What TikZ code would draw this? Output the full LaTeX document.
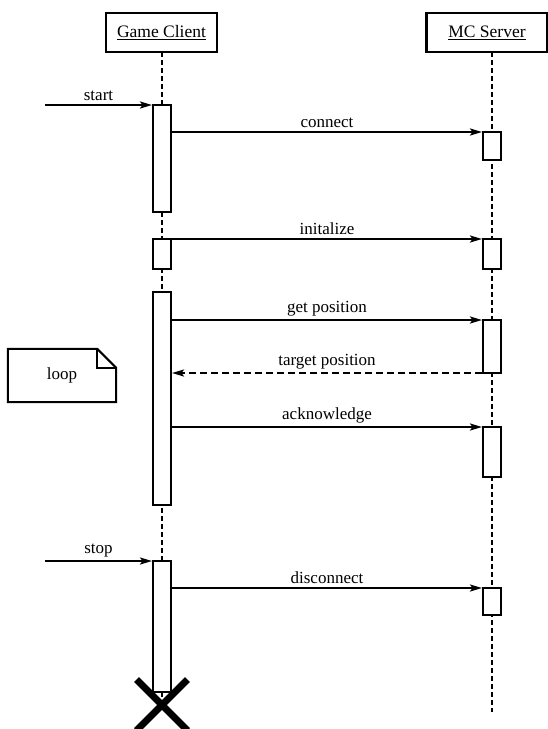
\documentclass[tikz,border=0pt]{standalone}
\usepackage{fontspec}
\setmainfont{Liberation Serif}
\usetikzlibrary{arrows.meta,shapes.misc}
\begin{document}
\begin{tikzpicture}[x=1pt,y=-1pt,
  head/.style={draw, line width=2.2pt, minimum height=39pt, inner sep=0pt,
    font=\fontsize{17.5}{20}\selectfont},
  act/.style={draw, fill=white, line width=2pt, minimum width=18pt, inner sep=0pt, outer sep=0pt},
  msg/.style={line width=2pt, -{Stealth[length=12pt,width=7pt,inset=2.5pt]}},
  reply/.style={msg, dash pattern=on 7pt off 4pt},
  life/.style={line width=1.5pt, dash pattern=on 5pt off 3pt},
  lbl/.style={above, inner sep=3pt, font=\fontsize{17}{19}\selectfont},
  notebox/.style={line width=2pt, line join=miter}]
\useasboundingbox (0,0) rectangle (548,729);

% lifeline heads
\node[head, minimum width=111pt] (gc) at (161.5,32.5) {\underline{Game Client}};
\node[head, minimum width=121pt] (mc) at (487,32.5) {\underline{MC Server}};
\coordinate (gcx) at (162,52);
\coordinate (mcx) at (492,52);
\coordinate (mcend) at (492,712);

% termination mark position
\coordinate (xpos) at (162,705);

% dashed lifelines
\draw[life] (gcx) -- (xpos);
\draw[life] (mcx) -- (mcend);

% activation bars of the client
\node[act, minimum height=107pt] (c1) at (162,158.5) {};
\node[act, minimum height=30pt]  (c2) at (162,254) {};
\node[act, minimum height=213pt] (c3) at (162,398.5) {};
\node[act, minimum height=131pt] (c4) at (162,626.5) {};

% activation bars of the server
\node[act, minimum height=28pt] (s1) at (492,146) {};
\node[act, minimum height=30pt] (s2) at (492,254) {};
\node[act, minimum height=53pt] (s3) at (492,346.5) {};
\node[act, minimum height=50pt] (s4) at (492,452) {};
\node[act, minimum height=27pt] (s5) at (492,601.5) {};

% found messages
\coordinate (startsrc) at (45,105);
\coordinate (stopsrc) at (45,561);
\draw[msg] (startsrc) -- node[lbl] {start} ([xshift=-1pt]c1.north west);
\draw[msg] (stopsrc) -- node[lbl] {stop} ([xshift=-1pt]c4.north west);

% calls and replies
\draw[msg] ([xshift=1pt]c1.east |- s1.north) -- node[lbl] {connect} ([xshift=-1pt]s1.north west);
\draw[msg] ([xshift=1pt]c2.north east) -- node[lbl] {initalize} ([xshift=-1pt]s2.north west);
\draw[msg] ([xshift=1pt]c3.east |- s3.north) -- node[lbl] {get position} ([xshift=-1pt]s3.north west);
\draw[reply] ([xshift=-1pt]s3.south west) -- node[lbl] {target position} ([xshift=1pt]c3.east |- s3.south);
\draw[msg] ([xshift=1pt]c3.east |- s4.north) -- node[lbl] {acknowledge} ([xshift=-1pt]s4.north west);
\draw[msg] ([xshift=1pt]c4.east |- s5.north) -- node[lbl] {disconnect} ([xshift=-1pt]s5.north west);

% loop note with folded corner
\node[minimum width=108pt, minimum height=53pt, inner sep=0pt,
  font=\fontsize{17}{19}\selectfont] (loopnote) at (62,375.5) {loop};
\draw[notebox] (loopnote.south west) -- (loopnote.north west)
  -- ([xshift=-19pt]loopnote.north east) -- ([yshift=-19pt]loopnote.north east)
  -- (loopnote.south east) -- cycle;
\draw[notebox] ([xshift=-19pt]loopnote.north east)
  -- ([xshift=-19pt,yshift=-19pt]loopnote.north east)
  -- ([yshift=-19pt]loopnote.north east);

% destruction mark
\node[draw, cross out, line width=7pt, minimum size=44pt, inner sep=0pt] (xmark) at (xpos) {};
\end{tikzpicture}
\end{document}
